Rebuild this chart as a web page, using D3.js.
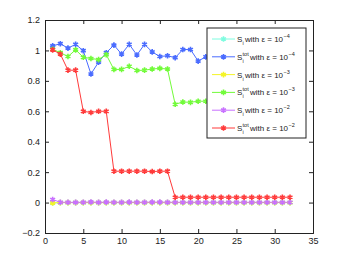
<!DOCTYPE html>
<html>
<head>
<meta charset="utf-8">
<script src="https://cdn.jsdelivr.net/npm/d3@7"></script>
<style>
  body { margin: 0; background: #fff; }
  text { font-family: "Liberation Sans", Arial, sans-serif; }
</style>
</head>
<body>
<div id="chart"></div>
<script>
// indices 1..32
let idx = d3.range(1, 33);

let siE4 = [-0.003,0,0,0,0,0,0,0,0,0,0,0,0,0,0,0,0,0,0,0,0,0,0,0,0,0,0,0,0,0,0,0];
let stotE4 = [1.03,1.044,1.015,1.04,0.998,0.845,0.923,0.985,1.035,0.976,1.04,0.97,1.04,0.99,0.96,0.965,
  0.952,1.006,1.006,0.93,0.958,0.99,0.97,1.0,0.98,0.97,1.0,0.99,0.97,1.0,0.98,0.99];
let siE3 = [-0.002,0,0,0,0,0,0,0,0,0,0,0,0,0,0,0,0,0,0,0,0,0,0,0,0,0,0,0,0,0,0,0];
let stotE3 = [1.008,0.985,0.96,1.004,0.955,0.947,0.94,0.972,0.875,0.875,0.896,0.868,0.87,0.878,0.882,0.878,
  0.646,0.661,0.659,0.666,0.666,0.66,0.66,0.66,0.66,0.66,0.66,0.66,0.66,0.66,0.66,0.66];
let siE2 = [0.02,0.002,0.002,0.001,0.002,0.004,0.001,0.003,0.002,0.002,0.003,0.002,0.002,0.003,0.003,0.002,
  0.002,0.002,0.002,0.002,0.002,0.002,0.002,0.002,0.002,0.002,0.002,0.002,0.002,0.002,0.002,0.002];
let stotE2 = [1.004,0.976,0.87,0.87,0.6,0.592,0.6,0.6,0.206,0.206,0.206,0.206,0.206,0.204,0.206,0.206,
  0.035,0.035,0.035,0.035,0.035,0.035,0.035,0.035,0.035,0.035,0.035,0.035,0.035,0.035,0.035,0.035];

let seriesNames = ["si4","stot4","si3","stot3","si2","stot2"];
let seriesVals = [siE4, stotE4, siE3, stotE3, siE2, stotE2];
let colors = ["#7ffce0","#4a6cff","#f4f428","#72fb3a","#c870ff","#ff3a3a"];
let exps = ["4","4","3","3","2","2"];
let isTot = [false,true,false,true,false,true];

let xTicks = d3.range(0, 36, 5);
let yTicks = [-0.2,0,0.2,0.4,0.6,0.8,1,1.2];

let width = 346, height = 263;
let margin = {left: 45, right: 33, top: 20, bottom: 30};

let x = d3.scaleLinear().domain([0, 35]).range([margin.left, width - margin.right]);
let y = d3.scaleLinear().domain([-0.2, 1.2]).range([height - margin.bottom, margin.top]);

let svg = d3.select("#chart").append("svg")
  .attr("width", width)
  .attr("height", height);

let fmt = function(d){
  if (d == 0) return "0";
  if (d == 1) return "1";
  return d3.format(".1f")(d).replace("-", "\u2212");
};

// axes with inward ticks (top/right too)
let tk = 4;
svg.append("g").attr("transform", "translate(0," + y(-0.2) + ")")
  .call(d3.axisBottom(x).tickValues(xTicks).tickSize(-tk).tickPadding(5).tickFormat(d3.format("d")));
svg.append("g").attr("transform", "translate(0," + y(1.2) + ")")
  .call(d3.axisTop(x).tickValues(xTicks).tickSize(-tk).tickFormat(""));
svg.append("g").attr("transform", "translate(" + x(0) + ",0)")
  .call(d3.axisLeft(y).tickValues(yTicks).tickSize(-tk).tickPadding(5).tickFormat(fmt));
svg.append("g").attr("transform", "translate(" + x(35) + ",0)")
  .call(d3.axisRight(y).tickValues(yTicks).tickSize(-tk).tickFormat(""));

svg.selectAll(".domain").attr("stroke", "#222").attr("stroke-width", 1);
svg.selectAll(".tick line").attr("stroke", "#222");
svg.selectAll(".tick text").attr("font-size", 9).attr("fill", "#222");

let line = d3.line().x((d, i) => x(idx[i])).y(d => y(d));
let star = d3.symbol().type(d3.symbolAsterisk).size(22);

seriesVals.forEach(function(vals, s){
  svg.append("path")
    .attr("d", line(vals))
    .attr("fill", "none")
    .attr("stroke", colors[s])
    .attr("stroke-width", 1);
  svg.selectAll(".m" + s).data(vals)
    .enter()
      .append("path")
      .attr("class", "m" + s)
      .attr("transform", (d, i) => "translate(" + x(idx[i]) + "," + y(d) + ")")
      .attr("d", star)
      .attr("fill", "none")
      .attr("stroke", colors[s])
      .attr("stroke-width", 1.6);
});

// legend
let lg = svg.append("g").attr("transform", "translate(207,28)");
lg.append("rect").attr("width", 99).attr("height", 110)
  .attr("fill", "#fff").attr("stroke", "#222").attr("stroke-width", 1);

seriesNames.forEach(function(n, s){
  let ly = 11 + s * 17.8;
  lg.append("line").attr("x1", 5).attr("x2", 28).attr("y1", ly).attr("y2", ly)
    .attr("stroke", colors[s]).attr("stroke-width", 1);
  lg.append("path").attr("transform", "translate(16.5," + ly + ")")
    .attr("d", star).attr("fill", "none").attr("stroke", colors[s]).attr("stroke-width", 1.6);
  let g = lg.append("g").attr("fill", "#222");
  g.append("text").attr("x", 30).attr("y", ly + 3).attr("font-size", 8).text("S");
  g.append("text").attr("x", 35.6).attr("y", ly + 6).attr("font-size", 5.5).text("i");
  let rest = 38;
  if (isTot[s]) {
    g.append("text").attr("x", 35.6).attr("y", ly - 1).attr("font-size", 5.5).text("tot");
    rest = 43;
  }
  let t = g.append("text").attr("x", rest).attr("y", ly + 3).attr("font-size", 8)
    .text(" with \u03b5 =  10");
  let tw = t.node().getComputedTextLength();
  g.append("text").attr("x", rest + tw + 0.5).attr("y", ly - 1).attr("font-size", 5.5)
    .text("\u2212" + exps[s]);
});
</script>
</body>
</html>
